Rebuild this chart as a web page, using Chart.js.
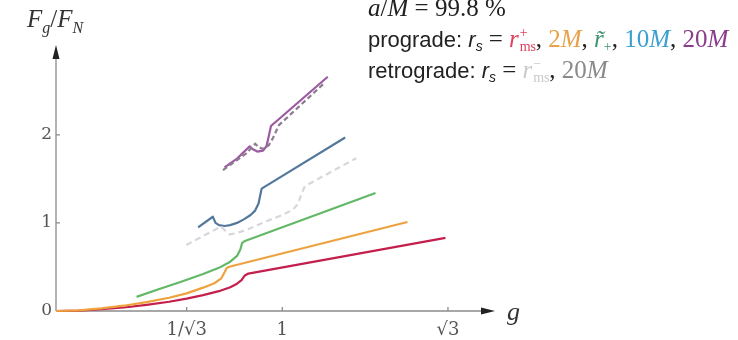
<!DOCTYPE html>
<html>
<head>
<meta charset="utf-8">
<script src="https://cdn.jsdelivr.net/npm/chart.js@4.4.1/dist/chart.umd.min.js"></script>
<style>
  body { margin: 0; background: #fff; }
  #wrap { position: relative; width: 738px; height: 340px; overflow: hidden; }
  canvas { position: absolute; left: 0; top: 0; }
  .lbl { position: absolute; font-family: 'Liberation Serif', serif; color: #333; white-space: nowrap; }
  .lbl i { font-style: italic; }
  #note { position: absolute; left: 368px; top: -7px; font: 22px 'Liberation Sans', sans-serif; color: #222; line-height: 30px; white-space: nowrap; }
  #note .m { font-family: 'Liberation Serif', serif; font-size: 25px; }
  #note .rs { font-style: italic; }
  #note sub { font-size: 14px; vertical-align: -4px; line-height: 0; }
  .ss { display: inline-block; position: relative; width: 17px; height: 21px; }
  .ss span { position: absolute; left: 1px; font-size: 14px; line-height: 1; }
  .ss .up { top: 0px; }
  .ss .dn { top: 14px; }
</style>
</head>
<body>
<div id="wrap">
  <canvas id="myChart" width="738" height="340"></canvas>
  <div class="lbl" style="left:27px; top:5px; font-size:25px;"><i>F</i><sub style="font-size:16px"><i>g</i></sub>/<i>F</i><sub style="font-size:16px"><i>N</i></sub></div>
  <div class="lbl" style="left:507px; top:297px; font-size:26px;"><i>g</i></div>
  <div id="note">
    <div><span class="m"><i>a</i>/<i>M</i> = 99.8 %</span></div>
    <div>prograde: <span class="rs">r<sub>s</sub></span> <span class="m">=</span>
      <span class="m" style="color:#e0405a"><i>r</i><span class="ss"><span class="up">+</span><span class="dn">ms</span></span></span><span class="m">,
      <span style="color:#e8a24a">2<i>M</i></span>,
      <span style="color:#3f9470"><i>r̃</i><sub>+</sub></span>,
      <span style="color:#3d9fd2">10<i>M</i></span>,
      <span style="color:#8b3c8c">20<i>M</i></span></span></div>
    <div>retrograde: <span class="rs">r<sub>s</sub></span> <span class="m">=</span>
      <span class="m" style="color:#c9c9cc"><i>r</i><span class="ss"><span class="up">&minus;</span><span class="dn">ms</span></span></span><span class="m">,
      <span style="color:#8a8a8a">20<i>M</i></span></span></div>
  </div>
</div>
<script>
// axis ticks
var xTicks = [1 / Math.sqrt(3), 1, Math.sqrt(3)];
var xTickLabels = ['1/\u221A3', '1', '\u221A3'];
var yTicks = [0, 1, 2];
var yTickLabels = ['0', '1', '2'];

// prograde, r_s = r_ms+
var redG = [0, 0.1, 0.2, 0.3, 0.4, 0.5, 0.577, 0.65, 0.72, 0.77, 0.80, 0.82, 0.833, 0.85, 1.721];
var redF = [0, 0.005, 0.02, 0.04, 0.07, 0.105, 0.14, 0.18, 0.225, 0.27, 0.31, 0.35, 0.40, 0.425, 0.83];

// prograde, r_s = 2M
var orangeG = [0, 0.1, 0.2, 0.3, 0.4, 0.5, 0.577, 0.65, 0.70, 0.73, 0.745, 0.755, 0.77, 1.553];
var orangeF = [0, 0.008, 0.03, 0.06, 0.10, 0.15, 0.20, 0.265, 0.315, 0.37, 0.44, 0.49, 0.505, 1.01];

// prograde, r_s = r~+
var greenG = [0.356, 0.45, 0.55, 0.65, 0.72, 0.77, 0.80, 0.815, 0.822, 0.835, 1.412];
var greenF = [0.16, 0.245, 0.33, 0.42, 0.49, 0.56, 0.625, 0.70, 0.77, 0.795, 1.34];

// prograde, r_s = 10M
var blueG = [0.628, 0.693, 0.705, 0.72, 0.745, 0.77, 0.80, 0.83, 0.86, 0.88, 0.895, 0.903, 0.909, 0.925, 1.278];
var blueF = [0.95, 1.07, 1.00, 0.975, 0.965, 0.975, 1.00, 1.04, 1.09, 1.14, 1.22, 1.32, 1.39, 1.415, 1.97];

// prograde, r_s = 20M
var purpleG = [0.745, 0.80, 0.856, 0.868, 0.89, 0.915, 0.93, 0.94, 0.95, 1.201];
var purpleF = [1.63, 1.73, 1.87, 1.84, 1.81, 1.82, 1.87, 1.98, 2.10, 2.66];

// retrograde, r_s = r_ms-
var retroG = [0.576, 0.73, 0.745, 0.767, 0.80, 0.85, 0.93, 1.0, 1.047, 1.07, 1.085, 1.10, 1.13, 1.327];
var retroF = [0.75, 0.96, 0.92, 0.87, 0.885, 0.93, 1.02, 1.09, 1.15, 1.22, 1.33, 1.42, 1.46, 1.735];

// retrograde, r_s = 20M
var retro20G = [0.738, 0.841, 0.88, 0.895, 0.915, 0.94, 0.96, 0.985, 1.187];
var retro20F = [1.60, 1.79, 1.90, 1.86, 1.84, 1.88, 1.97, 2.11, 2.59];

function pts(g, f) {
  return g.map(function (v, i) { return { x: v, y: f[i] }; });
}

function curve(g, f, color, dash) {
  return {
    data: pts(g, f),
    showLine: true,
    borderColor: color,
    borderWidth: 2.2,
    borderDash: dash || [],
    borderJoinStyle: 'round',
    pointRadius: 0,
    tension: 0,
    fill: false
  };
}

// axes with arrow heads and inward tick marks
var axisArrows = {
  id: 'axisArrows',
  beforeDatasetsDraw: function (chart) {
    var ctx = chart.ctx, xs = chart.scales.x, ys = chart.scales.y;
    var x0 = xs.getPixelForValue(0), y0 = ys.getPixelForValue(0);
    var xEnd = xs.getPixelForValue(xs.max), yEnd = ys.getPixelForValue(ys.max);
    ctx.save();
    ctx.strokeStyle = '#8c8c8c';
    ctx.lineWidth = 1.3;
    ctx.beginPath();
    ctx.moveTo(x0, y0); ctx.lineTo(xEnd - 8, y0);
    ctx.moveTo(x0, y0); ctx.lineTo(x0, yEnd + 8);
    xTicks.forEach(function (v) {
      var p = xs.getPixelForValue(v);
      ctx.moveTo(p, y0); ctx.lineTo(p, y0 - 4);
    });
    yTicks.forEach(function (v) {
      if (v === 0) return;
      var p = ys.getPixelForValue(v);
      ctx.moveTo(x0, p); ctx.lineTo(x0 + 4, p);
    });
    ctx.stroke();
    ctx.fillStyle = '#222';
    ctx.beginPath();
    ctx.moveTo(xEnd, y0); ctx.lineTo(xEnd - 14, y0 - 3.5); ctx.lineTo(xEnd - 14, y0 + 3.5); ctx.closePath();
    ctx.moveTo(x0, yEnd); ctx.lineTo(x0 - 3.5, yEnd + 14); ctx.lineTo(x0 + 3.5, yEnd + 14); ctx.closePath();
    ctx.fill();
    ctx.restore();
  }
};

var ctx = document.getElementById('myChart').getContext('2d');
var chart = new Chart(ctx, {
  type: 'scatter',
  data: {
    datasets: [
      curve(retroG, retroF, '#d6d6dc', [6, 4]),
      curve(retro20G, retro20F, '#8d7b90', [5, 3]),
      curve(purpleG, purpleF, '#9b5aa2'),
      curve(blueG, blueF, '#54789c'),
      curve(greenG, greenF, '#62b866'),
      curve(orangeG, orangeF, '#eea23e'),
      curve(redG, redF, '#c41f4c')
    ]
  },
  plugins: [axisArrows],
  options: {
    responsive: false,
    animation: false,
    clip: false,
    layout: { padding: { left: 0, top: 45, right: 243, bottom: 0 } },
    plugins: { legend: { display: false }, tooltip: { enabled: false } },
    scales: {
      x: {
        type: 'linear',
        min: 0,
        max: 1.94,
        grid: { display: false, drawTicks: false, tickLength: 0 },
        border: { display: false },
        afterBuildTicks: function (scale) {
          scale.ticks = xTicks.map(function (v) { return { value: v }; });
        },
        afterFit: function (scale) { scale.height = 29; },
        ticks: {
          padding: 9,
          color: '#555',
          font: { family: "'DejaVu Serif', serif", size: 18 },
          callback: function (v, i) { return xTickLabels[i]; }
        }
      },
      y: {
        type: 'linear',
        min: 0,
        max: 3.02,
        grid: { display: false, drawTicks: false, tickLength: 0 },
        border: { display: false },
        afterBuildTicks: function (scale) {
          scale.ticks = yTicks.map(function (v) { return { value: v }; });
        },
        afterFit: function (scale) { scale.width = 56; },
        ticks: {
          padding: 4,
          color: '#555',
          font: { family: "'DejaVu Serif', serif", size: 17 },
          callback: function (v, i) { return yTickLabels[i]; }
        }
      }
    }
  }
});
</script>
</body>
</html>
